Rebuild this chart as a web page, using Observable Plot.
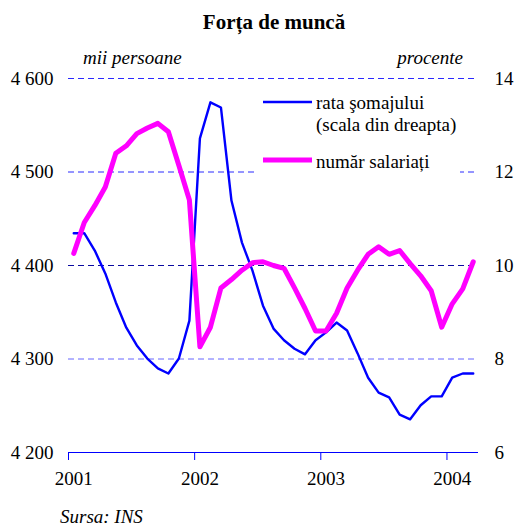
<!DOCTYPE html>
<html><head><meta charset="utf-8">
<script src="https://cdn.jsdelivr.net/npm/d3@7"></script>
<script src="https://cdn.jsdelivr.net/npm/@observablehq/plot@0.6"></script>
<style>
body{margin:0;background:#fff}
#chart svg text{font-family:"Liberation Serif","Times New Roman",serif !important;}
</style>
</head><body><div id="chart"></div>
<script>
const title = "Forța de muncă";
const leftUnit = "mii persoane";
const rightUnit = "procente";
const source = "Sursa: INS";
const years = ["2001", "2002", "2003", "2004"];
const legendLabels = ["rata şomajului", "(scala din dreapta)", "număr salariați"];
// monthly, Jan 2001 – Mar 2004
const unemployment = [10.69,10.69,10.32,9.83,9.21,8.67,8.29,8.01,7.80,7.69,8.01,8.82,
  12.72,13.49,13.38,11.39,10.49,9.89,9.14,8.65,8.40,8.22,8.10,8.40,
  8.57,8.78,8.61,8.12,7.60,7.28,7.18,6.81,6.71,7.01,7.20,7.20,
  7.60,7.69,7.69];
const employees = [4413,4446,4464,4484,4520,4528,4541,4547,4552,4543,4507,4470,
  4313,4334,4376,4385,4395,4403,4404,4400,4397,4376,4354,4330,
  4330,4349,4376,4395,4412,4420,4412,4416,4402,4389,4373,4334,
  4359,4375,4404];
const leftTicks = [4200, 4300, 4400, 4500, 4600];
const rightTicks = [6, 8, 10, 12, 14];

const toLeft = v => 4200 + (v - 6) * 50;
const data = employees.map((e, i) => ({m: i + 0.5, emp: e, rate: toLeft(unemployment[i])}));
const yearStarts = years.map((y, i) => i * 12);
const yearMids = years.map((y, i) => i * 12 + 0.5);
const fmtK = d => String(d).replace(/\B(?=(\d{3})+(?!\d))/g, " ");
const BLUE = "#0000ff", MAG = "#ff00ff";
const dash = "6,4";
const serif = "'Liberation Serif', serif";

const plot = Plot.plot({
  width: 515, height: 529,
  marginLeft: 68, marginRight: 37, marginTop: 78, marginBottom: 77,
  style: {fontFamily: serif, fontSize: "19px", color: "#000", background: "#fff", overflow: "visible"},
  x: {domain: [0, 39], axis: null, label: null},
  y: {domain: [4200, 4600], axis: null, label: null},
  marks: [
    Plot.ruleY([4600], {stroke: "#2a2aff", strokeDasharray: dash}),
    Plot.ruleY([4500], {stroke: "#2a2aff", strokeDasharray: dash}),
    Plot.ruleY([4400], {stroke: "#0a0aa0", strokeDasharray: dash}),
    Plot.ruleY([4300], {stroke: "#6666ff", strokeDasharray: dash}),
    Plot.axisY(leftTicks, {anchor: "left", tickSize: 0, tickPadding: 15, tickFormat: fmtK, label: null, fontSize: 19}),
    Plot.axisY(leftTicks, {anchor: "right", tickSize: 0, tickPadding: 16, tickFormat: d => String(rightTicks[leftTicks.indexOf(d)]), label: null, fontSize: 19}),
    Plot.axisX(yearStarts, {tickSize: 8, tickFormat: () => "", stroke: BLUE, label: null}),
    Plot.axisX(yearMids, {tickSize: 0, tickPadding: 19, tickFormat: d => years[Math.floor(d / 12)], label: null, fontSize: 19}),
    Plot.ruleY([4200], {stroke: BLUE, strokeWidth: 1.2}),
    Plot.line(data, {x: "m", y: "rate", stroke: BLUE, strokeWidth: 2.4}),
    Plot.line(data, {x: "m", y: "emp", stroke: MAG, strokeWidth: 5})
  ]
});

const svg = d3.select(plot);
const txt = (sel, x, y, t, size, anchor, extra = {}) => {
  const e = sel.append("text").attr("x", x).attr("y", y).attr("text-anchor", anchor)
    .style("font-family", serif).style("font-size", size + "px").text(t);
  for (const k in extra) e.style(k, extra[k]);
  return e;
};
txt(svg, 274, 29, title, 21, "middle", {"font-weight": "bold"});
txt(svg, 83, 64, leftUnit, 19, "start", {"font-style": "italic"});
txt(svg, 463, 64, rightUnit, 19, "end", {"font-style": "italic"});
txt(svg, 60, 523, source, 19, "start", {"font-style": "italic"});

// legend
const lg = svg.append("g");
lg.append("rect").attr("x", 258).attr("y", 88).attr("width", 202).attr("height", 90).attr("fill", "#fff");
lg.append("line").attr("x1", 263).attr("x2", 312).attr("y1", 102).attr("y2", 102).attr("stroke", BLUE).attr("stroke-width", 2.4);
lg.append("line").attr("x1", 263).attr("x2", 312).attr("y1", 160).attr("y2", 160).attr("stroke", MAG).attr("stroke-width", 5);
txt(lg, 316, 109, legendLabels[0], 19, "start");
txt(lg, 316, 131, legendLabels[1], 19, "start");
txt(lg, 316, 168, legendLabels[2], 19, "start");

document.getElementById("chart").appendChild(plot);
</script>
</body></html>
